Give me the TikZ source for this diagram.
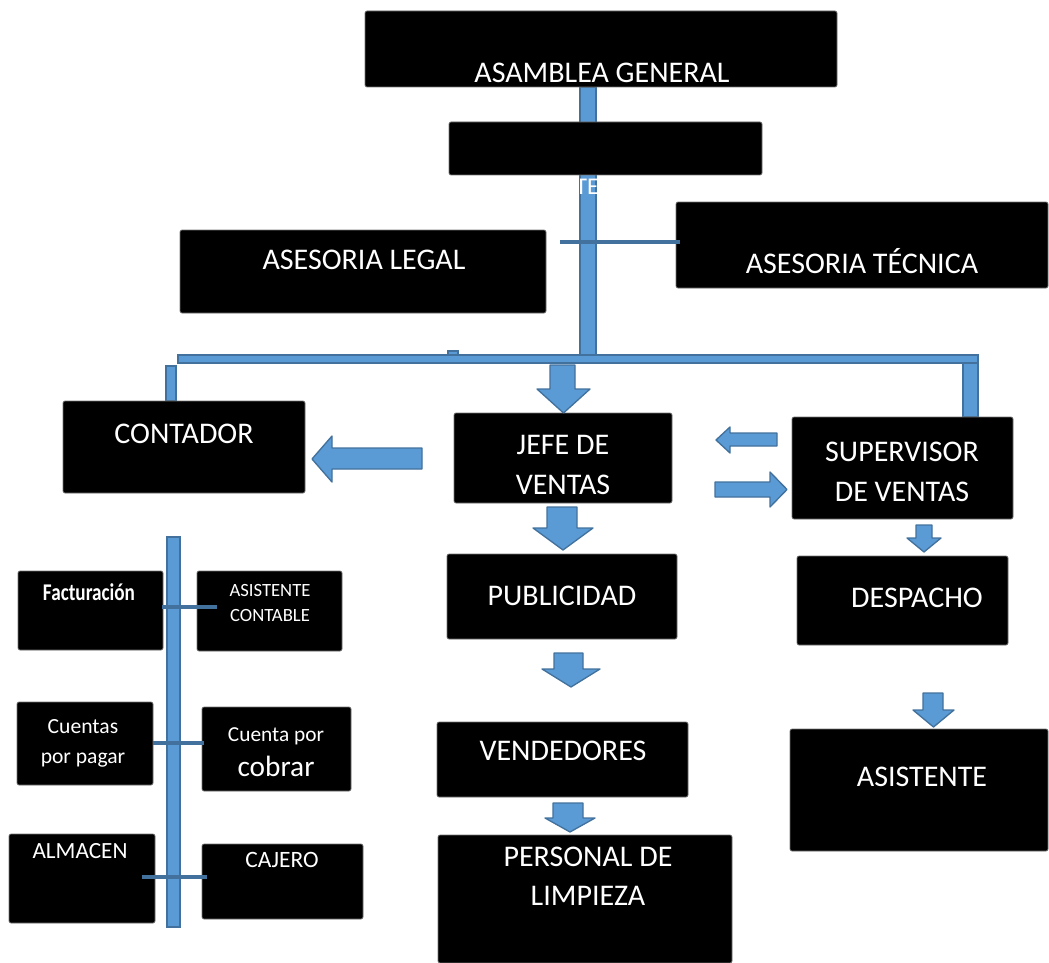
\documentclass[tikz,border=0pt]{standalone}
\usepackage{fontspec}
\setmainfont{Carlito}
\newfontfamily\factfont[FakeStretch=0.8]{Carlito}
\usetikzlibrary{backgrounds}
\definecolor{barfill}{HTML}{5B9BD5}
\definecolor{barline}{HTML}{41719C}
\newcommand\bx[5]{\node[box,minimum width={(#4-#2)*0.75pt},minimum height={(#5-#3)*0.75pt}] (#1) at ({(#2+#4)/2},{(#3+#5)/2}) {};}
\newcommand\downarr[7]{\draw[blk] (#1,#3) -- (#2,#3) -- (#2,#4) -- (#6,#4) -- ({(#5+#6)/2},#7) -- (#5,#4) -- (#1,#4) -- cycle;}
% left arrow: shaft x1..x2 (x1 = head base), y1..y2, head y3..y4, tip x5
\newcommand\leftarr[7]{\draw[blk] (#2,#3) -- (#1,#3) -- (#1,#5) -- (#7,{(#5+#6)/2}) -- (#1,#6) -- (#1,#4) -- (#2,#4) -- cycle;}
\newcommand\rightarr[7]{\draw[blk] (#1,#3) -- (#2,#3) -- (#2,#5) -- (#7,{(#5+#6)/2}) -- (#2,#6) -- (#2,#4) -- (#1,#4) -- cycle;}
\begin{document}
\begin{tikzpicture}[x=0.75pt,y=-0.75pt,
  box/.style={fill=black,draw=black!55,line width=0.5pt,rounded corners=1.5pt,inner sep=0pt},
  lbl/.style={text=white,font=\fontsize{22.5}{27}\selectfont,inner sep=0pt,anchor=base},
  bar/.style={fill=barfill,draw=barline,line width=0.8pt},
  link/.style={draw=barline,line width=3pt},
  blk/.style={fill=barfill,draw=barline,line width=1pt,line join=round}]
\useasboundingbox (0,0) rectangle (1049,963);
% boxes
\bx{asam}{365}{11}{837}{87}
\bx{ger}{449}{122}{762}{175}
\bx{legal}{180}{230}{546}{313}
\bx{tec}{676}{202}{1048}{288}
\bx{cont}{63}{401}{305}{493}
\bx{jefe}{454}{413}{672}{503}
\bx{sup}{792}{417}{1013}{519}
\bx{pub}{447}{554}{677}{639}
\bx{desp}{797}{556}{1008}{645}
\bx{vend}{437}{722}{688}{797}
\bx{asis}{790}{729}{1048}{851}
\bx{pers}{438}{835}{732}{963}
\bx{fact}{18}{571}{163}{650}
\bx{asc}{197}{571}{342}{651}
\bx{cpp}{17}{702}{153}{785}
\bx{cpc}{202}{707}{351}{791}
\bx{alm}{9}{834}{155}{923}
\bx{caj}{202}{844}{363}{919}
\begin{pgfonlayer}{background}
  % bars
  \draw[bar] (asam.south -| 580,0) rectangle (596,357);
  \draw[bar] (178,355) rectangle (978,363);
  \draw[bar] (448,351) rectangle (458,355);
  \draw[bar] (166,366) rectangle (cont.north -| 176,0);
  \draw[bar] (963,363) rectangle (sup.north -| 978,0);
  \draw[bar] (167,537) rectangle (180,927);
  % hidden text fragment
  \begin{scope}
    \clip (580,176) rectangle (596,200);
    \node[lbl,font=\fontsize{18}{21}\selectfont,anchor=base west] (gertxt) at (508,195) {GERENTE GENERAL};
  \end{scope}
\end{pgfonlayer}
% links (drawn over the boxes)
\coordinate (lk1) at (560,242);
\draw[link] (lk1) -- ([xshift=3pt]tec.west |- lk1);
\draw[link] ([xshift=-1pt]fact.east |- 0,607) -- ([xshift=15pt]asc.west |- 0,607);
\draw[link] (cpp.east |- 0,743) -- ([xshift=1.5pt]cpc.west |- 0,743);
\draw[link] ([xshift=-10pt]alm.east |- 0,877) -- ([xshift=4pt]caj.west |- 0,877);
% block arrows
\downarr{550}{575}{365}{389}{537}{590}{413}
\downarr{547}{577}{507}{528}{533}{593}{550}
\downarr{554}{583}{653}{669}{542}{600}{687}
\downarr{553}{583}{803}{818}{545}{595}{832}
\downarr{916}{932}{525}{538}{907}{941}{552}
\downarr{923}{943}{693}{710}{913}{954}{727}
\leftarr{332}{422}{448}{469}{436}{482}{312}
\leftarr{730}{777}{433}{446}{427}{453}{716}
\rightarr{715}{770}{482}{497}{472}{507}{787}
% labels
\node[lbl] (t1) at (602,83) {ASAMBLEA GENERAL};
\node[lbl] (t2) at (364,269) {ASESORIA LEGAL};
\node[lbl] (t3) at (862,273) {ASESORIA TÉCNICA};
\node[lbl] (t4) at (184,443) {CONTADOR};
\node[lbl] (t5) at (563,454) {JEFE DE};
\node[lbl] (t6) at (563,494) {VENTAS};
\node[lbl] (t7) at (902,461) {SUPERVISOR};
\node[lbl] (t8) at (902,501) {DE VENTAS};
\node[lbl] (t9) at (562,605) {PUBLICIDAD};
\node[lbl] (t10) at (917,607) {DESPACHO};
\node[lbl] (t11) at (563,760) {VENDEDORES};
\node[lbl] (t12) at (922,786) {ASISTENTE};
\node[lbl] (t13) at (588,866) {PERSONAL DE};
\node[lbl] (t14) at (588,905) {LIMPIEZA};
\node[lbl,font=\factfont\bfseries\fontsize{18}{21}\selectfont] (t15) at (89,600) {Facturación};
\node[lbl,font=\fontsize{14}{17}\selectfont] (t16) at (270,596) {ASISTENTE};
\node[lbl,font=\fontsize{14}{17}\selectfont] (t17) at (270,621) {CONTABLE};
\node[lbl,font=\fontsize{16.2}{19}\selectfont] (t18) at (83,733) {Cuentas};
\node[lbl,font=\fontsize{16.2}{19}\selectfont] (t19) at (83,763) {por pagar};
\node[lbl,font=\fontsize{16}{19}\selectfont] (t20) at (276,741) {Cuenta por};
\node[lbl,font=\fontsize{22}{26}\selectfont] (t21) at (276,776) {cobrar};
\node[lbl,font=\fontsize{17.4}{20}\selectfont] (t22) at (80,858) {ALMACEN};
\node[lbl,font=\fontsize{17.6}{20}\selectfont] (t23) at (282,867) {CAJERO};
\end{tikzpicture}
\end{document}
